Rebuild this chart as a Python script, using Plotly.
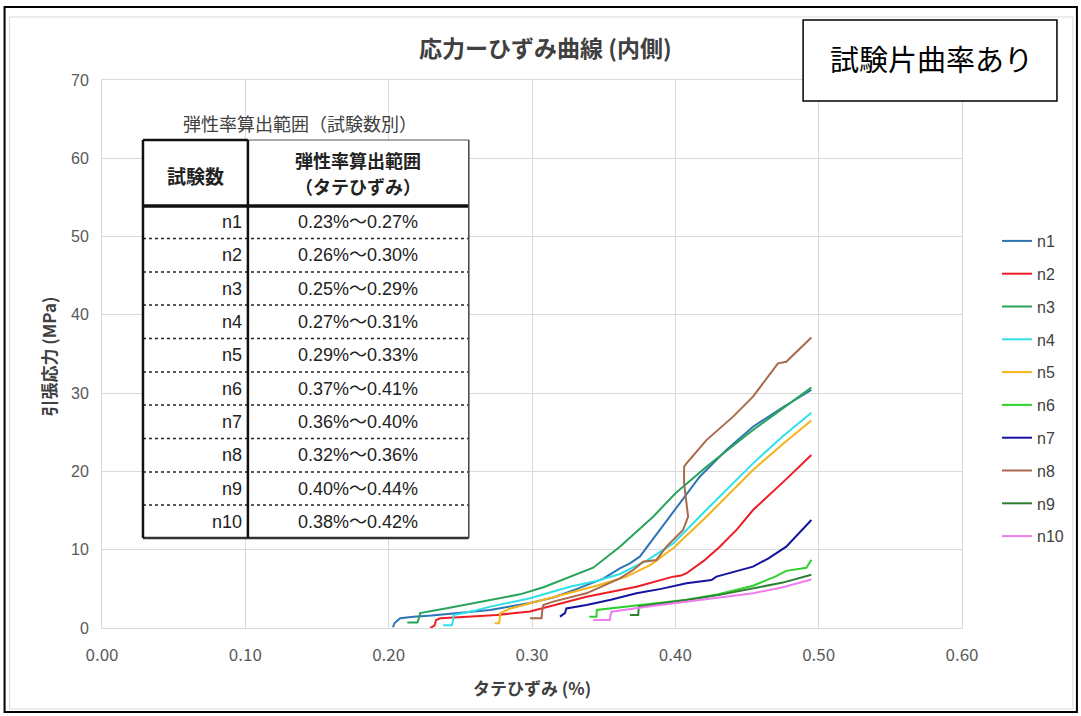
import plotly.graph_objects as go

# ---------------- data ----------------
series_names = ["n1", "n2", "n3", "n4", "n5", "n6", "n7", "n8", "n9", "n10"]
series_colors = ["#2F74B5", "#EE1C25", "#27A35A", "#2FE0E8", "#F5B31C",
                 "#2ED12E", "#14149E", "#A86A4A", "#2F7F33", "#F07CF0"]

n1_x = [0.2030, 0.2040, 0.2080, 0.2173, 0.2300, 0.2475, 0.2708, 0.2986, 0.3150, 0.3300, 0.3497,
        0.3613, 0.3683, 0.3752, 0.3892, 0.4008, 0.4170, 0.4356, 0.4542, 0.4750, 0.4949]
n1_y = [0.1, 0.6, 1.24, 1.45, 1.6, 1.88, 2.3, 3.2, 3.9, 4.9, 6.3,
        7.62, 8.26, 9.11, 12.52, 15.5, 19.33, 22.74, 25.71, 28.2, 30.4]

n2_x = [0.2290, 0.2320, 0.2330, 0.2360, 0.2550, 0.2754, 0.2986, 0.3150, 0.3380, 0.3729, 0.3985,
        0.4040, 0.4078, 0.4200, 0.4310, 0.4430, 0.4542, 0.4750, 0.4949]
n2_y = [0.0, 0.3, 1.0, 1.24, 1.45, 1.66, 2.1, 2.9, 4.0, 5.28, 6.56,
        6.7, 7.0, 8.6, 10.39, 12.6, 15.07, 18.6, 22.1]

n3_x = [0.2130, 0.2200, 0.2210, 0.2220, 0.2406, 0.2708, 0.2916, 0.3080, 0.3241, 0.3427, 0.3613,
        0.3845, 0.4001, 0.4217, 0.4542, 0.4750, 0.4949]
n3_y = [0.7, 0.7, 1.2, 1.9, 2.51, 3.58, 4.3, 5.2, 6.35, 7.7, 10.39,
        14.22, 17.2, 20.6, 25.29, 28.1, 30.7]

n4_x = [0.2380, 0.2440, 0.2450, 0.2452, 0.2600, 0.2708, 0.2986, 0.3264, 0.3450, 0.3613, 0.3800,
        0.3985, 0.4217, 0.4542, 0.4750, 0.4949]
n4_y = [0.35, 0.35, 1.0, 1.66, 2.2, 2.73, 3.79, 5.28, 6.0, 6.9, 8.6,
        10.8, 15.1, 21.03, 24.5, 27.5]

n5_x = [0.2740, 0.2770, 0.2775, 0.2777, 0.2850, 0.2986, 0.3264, 0.3450, 0.3660, 0.3830, 0.3985,
        0.4217, 0.4542, 0.4750, 0.4949]
n5_y = [0.6, 0.6, 1.2, 1.88, 2.5, 3.15, 4.43, 5.4, 6.56, 8.1, 10.18,
        14.22, 20.18, 23.5, 26.5]

n6_x = [0.3400, 0.3450, 0.3452, 0.3600, 0.3800, 0.4078, 0.4300, 0.4542, 0.4700, 0.4774, 0.4914,
        0.4930, 0.4949]
n6_y = [1.45, 1.45, 2.3, 2.6, 3.0, 3.6, 4.3, 5.4, 6.6, 7.3, 7.7,
        8.2, 8.7]

n7_x = [0.3195, 0.3230, 0.3240, 0.3380, 0.3550, 0.3729, 0.3900, 0.4078, 0.4252, 0.4287, 0.4542,
        0.4650, 0.4774, 0.4949]
n7_y = [1.45, 1.9, 2.5, 2.94, 3.6, 4.43, 5.0, 5.71, 6.13, 6.56, 7.84,
        8.9, 10.39, 13.8]

n8_x = [0.2986, 0.3067, 0.3070, 0.3079, 0.3148, 0.3380, 0.3613, 0.3706, 0.3775, 0.3868, 0.3938,
        0.4054, 0.4089, 0.4078, 0.4061, 0.4061, 0.4078, 0.4217, 0.4403, 0.4542, 0.4716, 0.4774, 0.4949]
n8_y = [1.24, 1.24, 2.0, 2.94, 3.37, 4.43, 6.35, 7.41, 8.47, 8.69, 10.39,
        12.52, 14.22, 15.92, 18.5, 20.6, 21.03, 24.0, 27.0, 29.55, 33.8, 34.0, 37.1]

n9_x = [0.3683, 0.3741, 0.3745, 0.3900, 0.4078, 0.4300, 0.4542, 0.4750, 0.4949]
n9_y = [1.66, 1.66, 2.73, 3.1, 3.58, 4.2, 5.07, 5.8, 6.8]

n10_x = [0.3427, 0.3543, 0.3548, 0.3555, 0.3800, 0.4078, 0.4300, 0.4542, 0.4750, 0.4949]
n10_y = [1.02, 1.02, 1.6, 2.09, 2.7, 3.37, 3.9, 4.43, 5.2, 6.2]

series_x = [n1_x, n2_x, n3_x, n4_x, n5_x, n6_x, n7_x, n8_x, n9_x, n10_x]
series_y = [n1_y, n2_y, n3_y, n4_y, n5_y, n6_y, n7_y, n8_y, n9_y, n10_y]

table_title = "弾性率算出範囲（試験数別）"
table_head_1 = "試験数"
table_head_2a = "弾性率算出範囲"
table_head_2b = "（タテひずみ）"
table_tests = ["n1", "n2", "n3", "n4", "n5", "n6", "n7", "n8", "n9", "n10"]
table_ranges = ["0.23%～0.27%", "0.26%～0.30%", "0.25%～0.29%", "0.27%～0.31%", "0.29%～0.33%",
                "0.37%～0.41%", "0.36%～0.40%", "0.32%～0.36%", "0.40%～0.44%", "0.38%～0.42%"]

chart_title = "応力ーひずみ曲線 (内側)"
box_label = "試験片曲率あり"
x_title = "タテひずみ (%)"
y_title = "引張応力 (MPa)"

# ---------------- layout helpers (pixel -> paper) ----------------
L, R, T, B = 101.5, 962.0, 80.0, 628.0
W, H = R - L, B - T


def px(x):
    return (x - L) / W


def py(y):
    return (B - y) / H


JP = "Noto Sans CJK JP"
TXT = "#404040"

fig = go.Figure()
for i, name in enumerate(series_names):
    fig.add_trace(go.Scatter(
        x=series_x[i], y=series_y[i], mode="lines", name=name,
        legendgroup=name,
        line=dict(color=series_colors[i], width=2),
    ))

shapes = []
annotations = []


def label(text, x, y, size, color=TXT, family=JP, xanchor="center", angle=0):
    annotations.append(dict(text=text, xref="paper", yref="paper", x=px(x), y=py(y),
                            xanchor=xanchor, yanchor="middle", showarrow=False,
                            textangle=angle, font=dict(family=family, size=size, color=color)))


# outer frames
shapes.append(dict(type="rect", xref="paper", yref="paper",
                   x0=px(9), x1=px(1073), y0=py(709), y1=py(17),
                   line=dict(color="#d9d9d9", width=1), layer="below"))
shapes.append(dict(type="rect", xref="paper", yref="paper",
                   x0=px(4), x1=px(1077), y0=py(712), y1=py(7),
                   line=dict(color="#000000", width=2)))

# title
label("<b>" + chart_title + "</b>", 545, 47, 23)

# top-right box
shapes.append(dict(type="rect", xref="paper", yref="paper",
                   x0=px(803), x1=px(1057), y0=py(101), y1=py(20),
                   fillcolor="white", line=dict(color="#000000", width=1.5)))
label(box_label, 931, 58, 29, color="#000000")

# table
tl, tc, tr = 142.5, 247.5, 468.5
ttop, thead, tbot = 140.0, 206.0, 538.0
row_edges = [206.0, 238.5, 272.0, 305.0, 338.5, 372.0, 405.0, 438.5, 472.0, 505.0, 538.0]

shapes.append(dict(type="rect", xref="paper", yref="paper",
                   x0=px(tl), x1=px(tr), y0=py(tbot), y1=py(ttop),
                   fillcolor="white", line=dict(width=0)))


def hline(x0, x1, y, w, color="#111111", dash="solid"):
    shapes.append(dict(type="line", xref="paper", yref="paper",
                       x0=px(x0), x1=px(x1), y0=py(y), y1=py(y),
                       line=dict(color=color, width=w, dash=dash)))


def vline(x, y0, y1, w, color="#111111"):
    shapes.append(dict(type="line", xref="paper", yref="paper",
                       x0=px(x), x1=px(x), y0=py(y0), y1=py(y1),
                       line=dict(color=color, width=w)))


for ye in row_edges[1:-1]:
    hline(tl, tr, ye, 1.5, "#222222", "dot")
hline(tl, tc, ttop, 2.5)
hline(tc, tr, ttop, 1.2, "#555555")
hline(tl, tr, thead, 3.5)
hline(tl, tr, tbot, 2.5, "#333333")
vline(tl, ttop, tbot, 2.5)
vline(tc, ttop, tbot, 2.5)
vline(tr, ttop, tbot, 1.5, "#444444")

label(table_title, 300, 123, 18)
label("<b>" + table_head_1 + "</b>", 195, 175, 19, color="#222222")
label("<b>" + table_head_2a + "</b>", 358, 160, 18, color="#222222")
label("<b>" + table_head_2b + "</b>", 358, 186, 18, color="#222222")
for i, (t, rg) in enumerate(zip(table_tests, table_ranges)):
    yc = (row_edges[i] + row_edges[i + 1]) / 2
    label(t, 244, yc, 18, color="#222222", family="Liberation Sans, " + JP, xanchor="right")
    label(rg, 358, yc, 18, color="#222222", family="Liberation Sans, " + JP)

# axis titles
label("<b>" + x_title + "</b>", 532, 687, 17)
label("<b>" + y_title + "</b>", 47, 357, 17, angle=-90)

fig.update_layout(
    width=1081, height=716,
    margin=dict(l=L, r=1081 - R, t=T, b=716 - B, autoexpand=False),
    paper_bgcolor="white", plot_bgcolor="white",
    shapes=shapes, annotations=annotations,
    showlegend=True,
    legend=dict(x=px(997), y=py(224), xanchor="left", yanchor="top",
                font=dict(family="Liberation Sans, " + JP, size=16, color=TXT),
                tracegroupgap=9, bgcolor="rgba(0,0,0,0)"),
    xaxis=dict(range=[0, 0.6], dtick=0.1, tick0=0, tickformat=".2f",
               showgrid=True, gridcolor="#d9d9d9", gridwidth=1,
               showline=True, linecolor="#d9d9d9", linewidth=1, mirror=True,
               zeroline=False, ticks="", ticklabelstandoff=12,
               tickfont=dict(family="Liberation Sans Narrow, " + JP, size=17, color="#595959")),
    yaxis=dict(range=[0, 70], dtick=10, tick0=0,
               showgrid=True, gridcolor="#d9d9d9", gridwidth=1,
               showline=True, linecolor="#d9d9d9", linewidth=1, mirror=True,
               zeroline=False, ticks="", ticklabelstandoff=9,
               tickfont=dict(family="Liberation Sans, " + JP, size=16, color="#595959")),
)

fig.write_html("out.html", config={"displayModeBar": False},
               post_script="document.body.style.margin='0px';")
